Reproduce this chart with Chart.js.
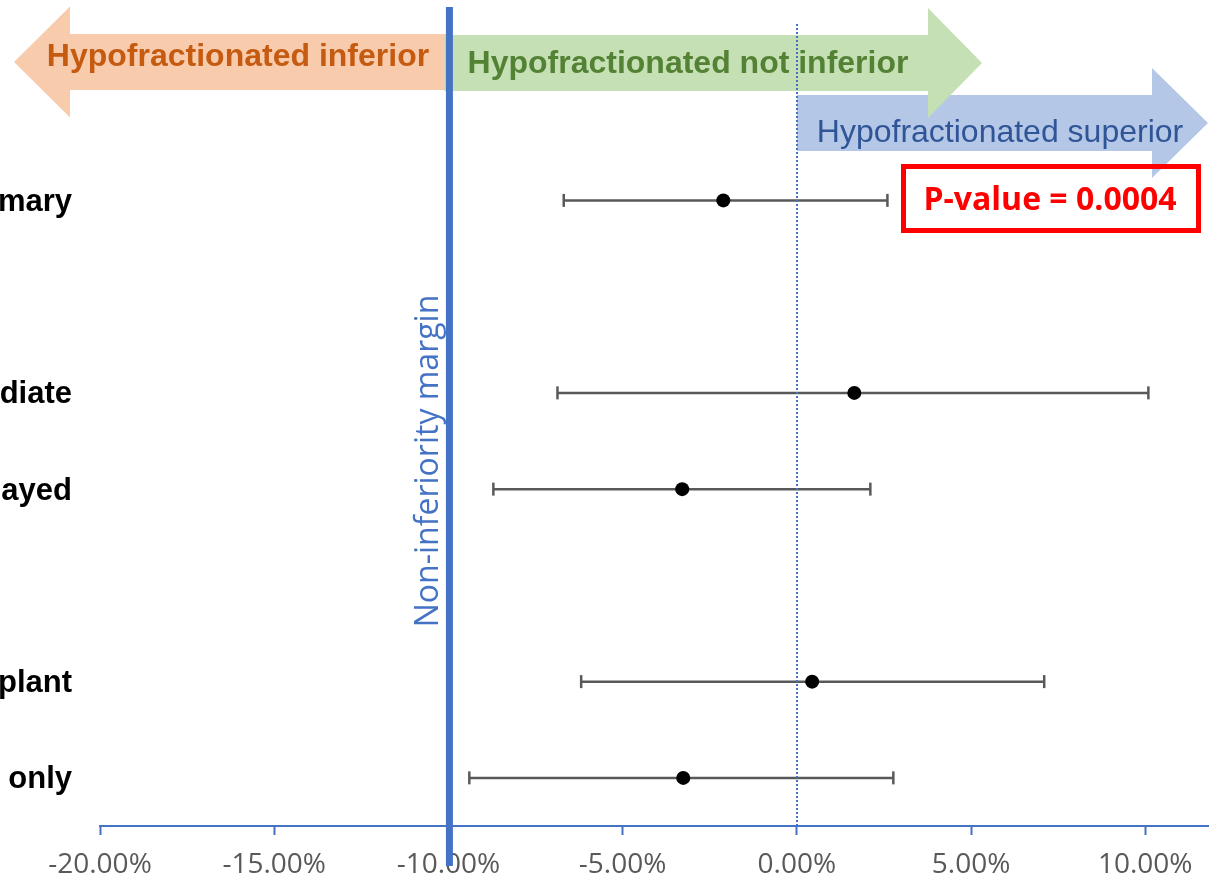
<!DOCTYPE html>
<html>
<head>
<meta charset="utf-8">
<script src="https://cdn.jsdelivr.net/npm/chart.js@4.4.1/dist/chart.umd.min.js"></script>
<style>
  html, body { margin: 0; padding: 0; background: #ffffff; }
  #wrap { position: relative; width: 1209px; height: 882px; overflow: hidden; }
  canvas { display: block; }
</style>
</head>
<body>
<div id="wrap"><canvas id="c" width="1209" height="882"></canvas></div>
<script>
// ---- data ----
const rowLabels = [' ', 'Primary', '  ', 'Immediate', 'Delayed', '   ', 'Implant', 'Autologous only'];
const subgroups = ['Primary', 'Immediate', 'Delayed', 'Implant', 'Autologous only'];
const estimate  = [-2.11, 1.65, -3.29, 0.44, -3.26];
const ciLower   = [-6.69, -6.87, -8.71, -6.19, -9.40];
const ciUpper   = [2.60, 10.09, 2.11, 7.10, 2.77];
const xMin = -20, xMax = 11.83, xStep = 5;
const niMargin = -10;
const noDiff = 0;
const pValueText = 'P-value = 0.0004';
const marginText = 'Non-inferiority margin';
const arrowTexts = ['Hypofractionated inferior', 'Hypofractionated not inferior', 'Hypofractionated superior'];

// ---- datasets ----
const GREY = '#595959';
const datasets = [{
  label: 'Estimate',
  data: subgroups.map((g, i) => ({ x: estimate[i], y: g })),
  pointRadius: 7, pointHoverRadius: 7,
  pointBackgroundColor: '#000', pointBorderColor: '#000', pointBorderWidth: 0,
  order: 0
}];
subgroups.forEach((g, i) => {
  datasets.push({
    label: g + ' CI',
    data: [{ x: ciLower[i], y: g }, { x: ciUpper[i], y: g }],
    showLine: true,
    borderColor: GREY, borderWidth: 2.5,
    pointStyle: 'line', rotation: 90,
    pointRadius: 6.5, pointHoverRadius: 6.5,
    pointBorderColor: GREY, pointBorderWidth: 2.5,
    order: 1
  });
});

function arrow(ctx, xTail, xTip, yc, bodyHalf, headHalf, headLen, color) {
  const dir = xTip > xTail ? 1 : -1;
  const xBase = xTip - dir * headLen;
  ctx.beginPath();
  ctx.moveTo(xTail, yc - bodyHalf);
  ctx.lineTo(xBase, yc - bodyHalf);
  ctx.lineTo(xBase, yc - headHalf);
  ctx.lineTo(xTip, yc);
  ctx.lineTo(xBase, yc + headHalf);
  ctx.lineTo(xBase, yc + bodyHalf);
  ctx.lineTo(xTail, yc + bodyHalf);
  ctx.closePath();
  ctx.fillStyle = color;
  ctx.fill();
}

const annotations = {
  id: 'annotations',
  afterDraw(chart) {
    const ctx = chart.ctx;
    const xs = chart.scales.x;
    const xm = xs.getPixelForValue(niMargin);
    const x0 = Math.round(xs.getPixelForValue(noDiff));
    const bottom = chart.chartArea.bottom;
    ctx.save();
    // arrows
    arrow(ctx, x0, 1208, 123, 28, 55, 56, '#b4c7e7');
    arrow(ctx, xm + 4, 14, 62, 28, 55.5, 56, '#f8cbad');
    arrow(ctx, xm - 4, 982, 63, 28, 55, 54, '#c5e0b4');
    // arrow texts
    ctx.textAlign = 'center';
    ctx.textBaseline = 'middle';
    ctx.font = 'bold 32px "Liberation Sans", Arial, sans-serif';
    ctx.fillStyle = '#c55a11';
    ctx.fillText(arrowTexts[0], 238, 57);
    ctx.fillStyle = '#548235';
    ctx.fillText(arrowTexts[1], 688, 64);
    ctx.font = '32px "Liberation Sans", Arial, sans-serif';
    ctx.fillStyle = '#2f5597';
    ctx.fillText(arrowTexts[2], 1000, 133);
    // non-inferiority margin line
    ctx.strokeStyle = '#4472c4';
    ctx.lineWidth = 7;
    ctx.beginPath();
    ctx.moveTo(xm + 1, 7);
    ctx.lineTo(xm + 1, 866);
    ctx.stroke();
    // zero dotted line
    ctx.lineWidth = 2;
    ctx.setLineDash([2, 2]);
    ctx.beginPath();
    ctx.moveTo(x0, 24);
    ctx.lineTo(x0, bottom);
    ctx.stroke();
    ctx.setLineDash([]);
    // rotated label
    ctx.save();
    ctx.translate(429, 461);
    ctx.rotate(-Math.PI / 2);
    ctx.font = '32px "Open Sans", sans-serif';
    ctx.fillStyle = '#4472c4';
    ctx.fillText(marginText, 0, 0);
    ctx.restore();
    // p-value box
    ctx.strokeStyle = '#ff0000';
    ctx.lineWidth = 5;
    ctx.strokeRect(903.5, 166.5, 295, 64);
    ctx.font = 'bold 32px "Open Sans", sans-serif';
    ctx.fillStyle = '#ff0000';
    ctx.fillText(pValueText, 1050, 201);
    ctx.restore();
  }
};

new Chart(document.getElementById('c'), {
  type: 'scatter',
  data: { datasets },
  options: {
    responsive: false,
    animation: false,
    events: [],
    layout: { autoPadding: false, padding: { top: 56, left: 0, right: 0, bottom: 0 } },
    plugins: { legend: { display: false }, tooltip: { enabled: false } },
    scales: {
      x: {
        type: 'linear', min: xMin, max: xMax, position: 'bottom',
        ticks: {
          stepSize: xStep, includeBounds: false, autoSkip: false, maxRotation: 0,
          callback: v => v.toFixed(2) + '%',
          color: '#595959', font: { family: '"Open Sans", sans-serif', size: 28 }, padding: 13
        },
        grid: { display: true, drawOnChartArea: false, drawTicks: true, tickLength: 9, tickColor: '#4472c4', tickWidth: 2 },
        border: { display: true, color: '#4472c4', width: 2 },
        afterFit: s => { s.height = 56; s.paddingLeft = 0; s.paddingRight = 0; }
      },
      y: {
        type: 'category', labels: rowLabels, offset: true,
        ticks: {
          autoSkip: false, color: '#000', padding: 28, labelOffset: 2,
          font: { family: '"Liberation Sans", Arial, sans-serif', size: 31, weight: 'bold' }
        },
        grid: { display: false, drawTicks: false },
        border: { display: false },
        afterFit: s => { s.width = 100; }
      }
    }
  },
  plugins: [annotations]
});
</script>
</body>
</html>
